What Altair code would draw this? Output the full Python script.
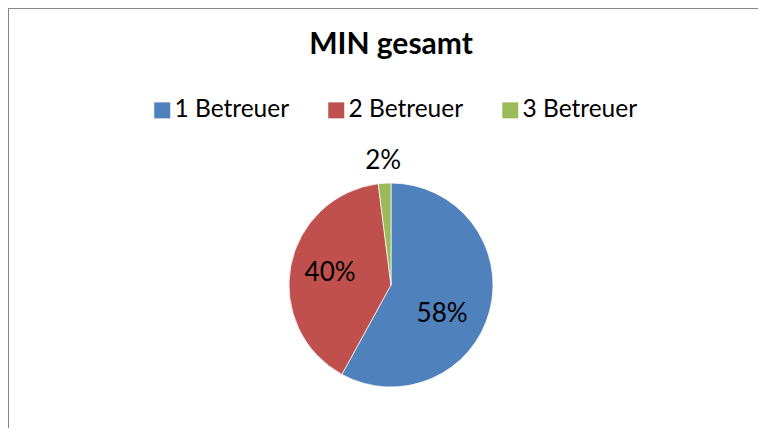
import altair as alt
import pandas as pd

categories = ["1 Betreuer", "2 Betreuer", "3 Betreuer"]
shares = [58, 40, 2]
labels = ["58%", "40%", "2%"]
colors = ["#4F81BD", "#C0504D", "#9BBB59"]
title_text = ["MIN gesamt"]

df = pd.DataFrame({"cat": categories, "share": shares, "label": labels, "order": [0, 1, 2]})

W, H = 750, 420
CX, CY = 383, 277
FONT = "Lato"

base = alt.Chart(df).encode(
    theta=alt.Theta("share:Q", stack=True),
    order=alt.Order("order:Q"),
)

pie = base.mark_arc(outerRadius=102, stroke="white", strokeWidth=0.7).encode(
    color=alt.Color(
        "cat:N",
        scale=alt.Scale(domain=categories, range=colors),
        legend=alt.Legend(
            title=None,
            orient="none",
            legendX=142,
            legendY=90,
            direction="horizontal",
            symbolType="square",
            symbolSize=256,
            symbolStrokeWidth=0,
            symbolOpacity=1,
            labelFontSize=24.5,
            labelFont=FONT,
            labelColor="black",
            columnPadding=34,
            labelOffset=0,
        ),
    ),
    x=alt.value(CX),
    y=alt.value(CY),
)

big = base.mark_text(radius=62, fontSize=26, font=FONT, color="black", dx=-9, dy=14).encode(
    text=alt.condition("datum.share >= 50", "label:N", alt.value("")),
    x=alt.value(CX),
    y=alt.value(CY),
)

mid = base.mark_text(radius=62, fontSize=26, font=FONT, color="black").encode(
    text=alt.condition("datum.share >= 5 && datum.share < 50", "label:N", alt.value("")),
    x=alt.value(CX),
    y=alt.value(CY),
)

outer = base.mark_text(radius=124, fontSize=26, font=FONT, color="black").encode(
    text=alt.condition("datum.share < 5", "label:N", alt.value("")),
    x=alt.value(CX),
    y=alt.value(CY),
)

title = alt.Chart(pd.DataFrame({"t": title_text})).mark_text(
    font=FONT, fontSize=30, fontWeight="bold", color="black", baseline="middle"
).encode(text="t:N", x=alt.value(383), y=alt.value(37))

one = pd.DataFrame({"a": [0]})
left_border = alt.Chart(one).mark_rule(color="#868686", strokeWidth=2).encode(
    x=alt.value(0), y=alt.value(0), y2=alt.value(H)
)
top_border = alt.Chart(one).mark_rule(color="#868686", strokeWidth=2).encode(
    x=alt.value(0), x2=alt.value(W), y=alt.value(0)
)

chart = alt.layer(left_border, top_border, title, pie, big, mid, outer).properties(
    width=W, height=H, padding=0, autosize=alt.AutoSizeParams(type="none")
).configure_view(stroke=None)

chart.save("out.html", embed_options={"renderer": "svg", "actions": False})
